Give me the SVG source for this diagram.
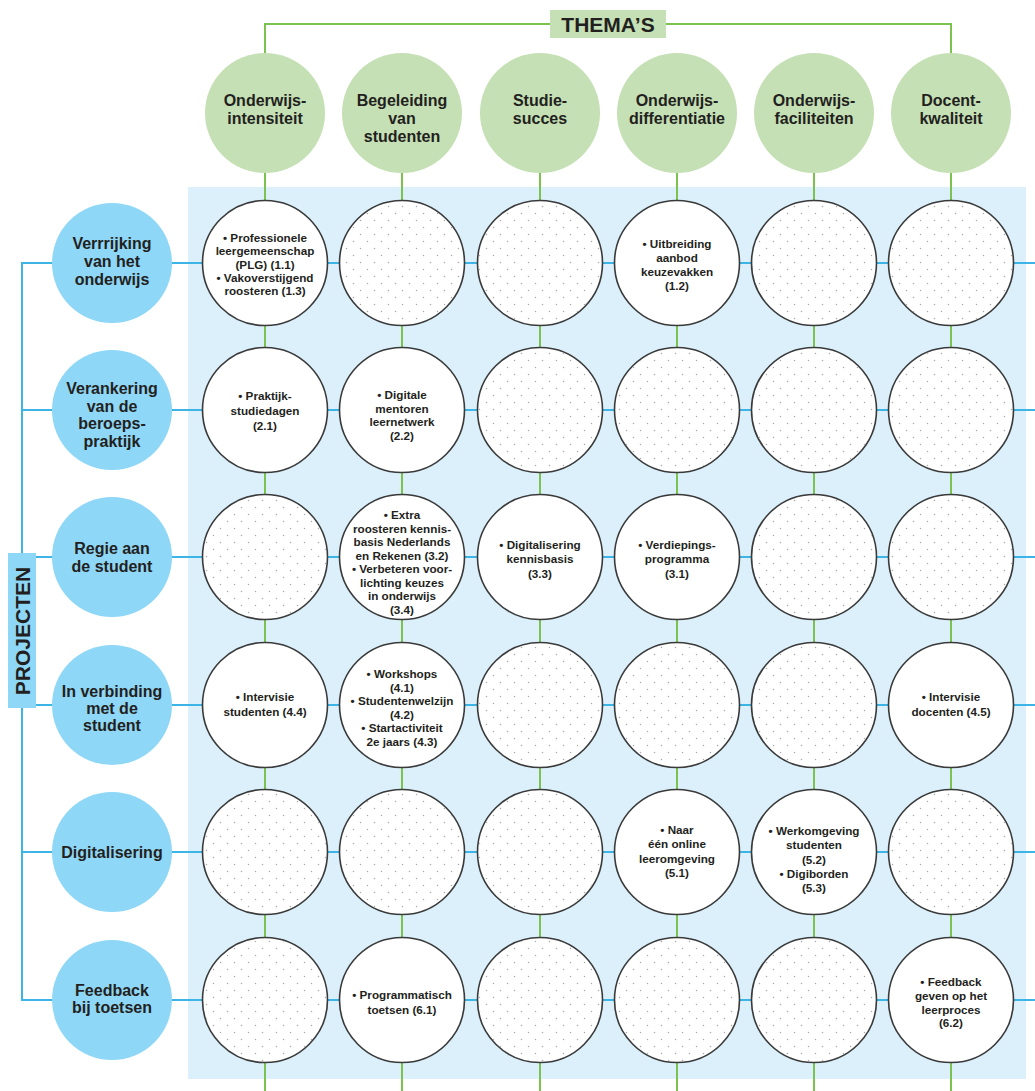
<svg xmlns="http://www.w3.org/2000/svg" width="1035" height="1091" viewBox="0 0 1035 1091">
<style>
.t{font-family:"Liberation Sans",Arial,sans-serif;font-weight:bold;fill:#231f20;text-anchor:middle}
.th{font-size:16px}
.pr{font-size:16px}
.c{font-size:11.7px}
.gl{stroke:#7cc24e;stroke-width:2;fill:none}
.bl{stroke:#3cb4e6;stroke-width:2;fill:none}
.theme{fill:#c5e0b4}
.proj{fill:#8ed7f7}
.cell{fill:#fff;stroke:#3a3a3a;stroke-width:1.6}
.dots{fill:url(#dots);stroke:none}
</style>
<defs>
<pattern id="dots" width="14" height="14" patternUnits="userSpaceOnUse">
<circle cx="3.5" cy="3.5" r="0.75" fill="#a8a8a8"/>
<circle cx="10.5" cy="10.5" r="0.75" fill="#a8a8a8"/>
</pattern>
</defs>
<rect width="1035" height="1091" fill="#fff"/>
<rect id="grid-bg" x="188" y="187" width="838" height="892" fill="#dbf0fb"/>
<g id="connectors">
<polyline class="gl" points="265,53 265,24 951,24 951,53"/>
<line class="gl" x1="265" y1="173" x2="265" y2="1091"/>
<line class="gl" x1="402" y1="173" x2="402" y2="1091"/>
<line class="gl" x1="540" y1="173" x2="540" y2="1091"/>
<line class="gl" x1="677" y1="173" x2="677" y2="1091"/>
<line class="gl" x1="814" y1="173" x2="814" y2="1091"/>
<line class="gl" x1="951" y1="173" x2="951" y2="1091"/>
<line class="bl" x1="22" y1="263" x2="22" y2="1000"/>
<line class="bl" x1="21" y1="263" x2="1035" y2="263"/>
<line class="bl" x1="22" y1="410" x2="1035" y2="410"/>
<line class="bl" x1="22" y1="557" x2="1035" y2="557"/>
<line class="bl" x1="22" y1="705" x2="1035" y2="705"/>
<line class="bl" x1="22" y1="852" x2="1035" y2="852"/>
<line class="bl" x1="21" y1="1000" x2="1035" y2="1000"/>
</g>
<g id="themas-label">
<rect x="550" y="10" width="116" height="28" class="theme"/>
<text class="t" x="608" y="31.5" font-size="21">THEMA’S</text>
</g>
<g id="projecten-label">
<rect x="8" y="553" width="28" height="155" class="proj"/>
<text class="t" transform="translate(29.5,631) rotate(-90)" font-size="21">PROJECTEN</text>
</g>
<g id="theme-1"><circle cx="265" cy="113" r="60" class="theme"/><text class="t th" x="265" y="106">Onderwijs-<tspan x="265" dy="18">intensiteit</tspan></text></g>
<g id="theme-2"><circle cx="402" cy="113" r="60" class="theme"/><text class="t th" x="402" y="106">Begeleiding<tspan x="402" dy="18">van</tspan><tspan x="402" dy="18">studenten</tspan></text></g>
<g id="theme-3"><circle cx="540" cy="113" r="60" class="theme"/><text class="t th" x="540" y="106">Studie-<tspan x="540" dy="18">succes</tspan></text></g>
<g id="theme-4"><circle cx="677" cy="113" r="60" class="theme"/><text class="t th" x="677" y="106">Onderwijs-<tspan x="677" dy="18">differentiatie</tspan></text></g>
<g id="theme-5"><circle cx="814" cy="113" r="60" class="theme"/><text class="t th" x="814" y="106">Onderwijs-<tspan x="814" dy="18">faciliteiten</tspan></text></g>
<g id="theme-6"><circle cx="951" cy="113" r="60" class="theme"/><text class="t th" x="951" y="106">Docent-<tspan x="951" dy="18">kwaliteit</tspan></text></g>
<g id="project-1"><circle cx="112" cy="263" r="60" class="proj"/><text class="t pr" x="112" y="249">Verrrijking<tspan x="112" dy="18">van het</tspan><tspan x="112" dy="18">onderwijs</tspan></text></g>
<g id="project-2"><circle cx="112" cy="410" r="60" class="proj"/><text class="t pr" x="112" y="394">Verankering<tspan x="112" dy="17.5">van de</tspan><tspan x="112" dy="17.5">beroeps-</tspan><tspan x="112" dy="17.5">praktijk</tspan></text></g>
<g id="project-3"><circle cx="112" cy="557" r="60" class="proj"/><text class="t pr" x="112" y="554">Regie aan<tspan x="112" dy="18">de student</tspan></text></g>
<g id="project-4"><circle cx="112" cy="705" r="60" class="proj"/><text class="t pr" x="112" y="697">In verbinding<tspan x="112" dy="17">met de</tspan><tspan x="112" dy="17">student</tspan></text></g>
<g id="project-5"><circle cx="112" cy="852" r="60" class="proj"/><text class="t pr" x="112" y="858">Digitalisering</text></g>
<g id="project-6"><circle cx="112" cy="1000" r="60" class="proj"/><text class="t pr" x="112" y="996">Feedback<tspan x="112" dy="17">bij toetsen</tspan></text></g>
<g id="cell-1-1"><circle cx="265" cy="263" r="62.5" class="cell"/><text class="t c" x="265" y="242">• Professionele<tspan x="265" dy="13.3">leergemeenschap</tspan><tspan x="265" dy="13.3">(PLG) (1.1)</tspan><tspan x="265" dy="13.3">• Vakoverstijgend</tspan><tspan x="265" dy="13.3">roosteren (1.3)</tspan></text></g>
<g id="cell-1-2"><circle cx="402" cy="263" r="62.5" class="cell"/><circle cx="402" cy="263" r="61.5" class="dots"/></g>
<g id="cell-1-3"><circle cx="540" cy="263" r="62.5" class="cell"/><circle cx="540" cy="263" r="61.5" class="dots"/></g>
<g id="cell-1-4"><circle cx="677" cy="263" r="62.5" class="cell"/><text class="t c" x="677" y="248">• Uitbreiding<tspan x="677" dy="14">aanbod</tspan><tspan x="677" dy="14">keuzevakken</tspan><tspan x="677" dy="14">(1.2)</tspan></text></g>
<g id="cell-1-5"><circle cx="814" cy="263" r="62.5" class="cell"/><circle cx="814" cy="263" r="61.5" class="dots"/></g>
<g id="cell-1-6"><circle cx="951" cy="263" r="62.5" class="cell"/><circle cx="951" cy="263" r="61.5" class="dots"/></g>
<g id="cell-2-1"><circle cx="265" cy="410" r="62.5" class="cell"/><text class="t c" x="265" y="400">• Praktijk-<tspan x="265" dy="14.5">studiedagen</tspan><tspan x="265" dy="15">(2.1)</tspan></text></g>
<g id="cell-2-2"><circle cx="402" cy="410" r="62.5" class="cell"/><text class="t c" x="402" y="399">• Digitale<tspan x="402" dy="13.7">mentoren</tspan><tspan x="402" dy="13.7">leernetwerk</tspan><tspan x="402" dy="14">(2.2)</tspan></text></g>
<g id="cell-2-3"><circle cx="540" cy="410" r="62.5" class="cell"/><circle cx="540" cy="410" r="61.5" class="dots"/></g>
<g id="cell-2-4"><circle cx="677" cy="410" r="62.5" class="cell"/><circle cx="677" cy="410" r="61.5" class="dots"/></g>
<g id="cell-2-5"><circle cx="814" cy="410" r="62.5" class="cell"/><circle cx="814" cy="410" r="61.5" class="dots"/></g>
<g id="cell-2-6"><circle cx="951" cy="410" r="62.5" class="cell"/><circle cx="951" cy="410" r="61.5" class="dots"/></g>
<g id="cell-3-1"><circle cx="265" cy="557" r="62.5" class="cell"/><circle cx="265" cy="557" r="61.5" class="dots"/></g>
<g id="cell-3-2"><circle cx="402" cy="557" r="62.5" class="cell"/><text class="t c" x="402" y="519">• Extra<tspan x="402" dy="13.5">roosteren kennis-</tspan><tspan x="402" dy="13.5">basis Nederlands</tspan><tspan x="402" dy="13.5">en Rekenen (3.2)</tspan><tspan x="402" dy="13.5">• Verbeteren voor-</tspan><tspan x="402" dy="13.5">lichting keuzes</tspan><tspan x="402" dy="13.5">in onderwijs</tspan><tspan x="402" dy="13.5">(3.4)</tspan></text></g>
<g id="cell-3-3"><circle cx="540" cy="557" r="62.5" class="cell"/><text class="t c" x="540" y="549">• Digitalisering<tspan x="540" dy="14">kennisbasis</tspan><tspan x="540" dy="15">(3.3)</tspan></text></g>
<g id="cell-3-4"><circle cx="677" cy="557" r="62.5" class="cell"/><text class="t c" x="677" y="549">• Verdiepings-<tspan x="677" dy="14">programma</tspan><tspan x="677" dy="15">(3.1)</tspan></text></g>
<g id="cell-3-5"><circle cx="814" cy="557" r="62.5" class="cell"/><circle cx="814" cy="557" r="61.5" class="dots"/></g>
<g id="cell-3-6"><circle cx="951" cy="557" r="62.5" class="cell"/><circle cx="951" cy="557" r="61.5" class="dots"/></g>
<g id="cell-4-1"><circle cx="265" cy="705" r="62.5" class="cell"/><text class="t c" x="265" y="701">• Intervisie<tspan x="265" dy="14.5">studenten (4.4)</tspan></text></g>
<g id="cell-4-2"><circle cx="402" cy="705" r="62.5" class="cell"/><text class="t c" x="402" y="678">• Workshops<tspan x="402" dy="13.6">(4.1)</tspan><tspan x="402" dy="13.6">• Studentenwelzijn</tspan><tspan x="402" dy="13.6">(4.2)</tspan><tspan x="402" dy="13.6">• Startactiviteit</tspan><tspan x="402" dy="13.6">2e jaars (4.3)</tspan></text></g>
<g id="cell-4-3"><circle cx="540" cy="705" r="62.5" class="cell"/><circle cx="540" cy="705" r="61.5" class="dots"/></g>
<g id="cell-4-4"><circle cx="677" cy="705" r="62.5" class="cell"/><circle cx="677" cy="705" r="61.5" class="dots"/></g>
<g id="cell-4-5"><circle cx="814" cy="705" r="62.5" class="cell"/><circle cx="814" cy="705" r="61.5" class="dots"/></g>
<g id="cell-4-6"><circle cx="951" cy="705" r="62.5" class="cell"/><text class="t c" x="951" y="701">• Intervisie<tspan x="951" dy="14.5">docenten (4.5)</tspan></text></g>
<g id="cell-5-1"><circle cx="265" cy="852" r="62.5" class="cell"/><circle cx="265" cy="852" r="61.5" class="dots"/></g>
<g id="cell-5-2"><circle cx="402" cy="852" r="62.5" class="cell"/><circle cx="402" cy="852" r="61.5" class="dots"/></g>
<g id="cell-5-3"><circle cx="540" cy="852" r="62.5" class="cell"/><circle cx="540" cy="852" r="61.5" class="dots"/></g>
<g id="cell-5-4"><circle cx="677" cy="852" r="62.5" class="cell"/><text class="t c" x="677" y="834" font-size="12.3">• Naar<tspan x="677" dy="14.3">één online</tspan><tspan x="677" dy="14.3">leeromgeving</tspan><tspan x="677" dy="14.3">(5.1)</tspan></text></g>
<g id="cell-5-5"><circle cx="814" cy="852" r="62.5" class="cell"/><text class="t c" x="814" y="835" font-size="12.3">• Werkomgeving<tspan x="814" dy="14">studenten</tspan><tspan x="814" dy="14.5">(5.2)</tspan><tspan x="814" dy="14">• Digiborden</tspan><tspan x="814" dy="14">(5.3)</tspan></text></g>
<g id="cell-5-6"><circle cx="951" cy="852" r="62.5" class="cell"/><circle cx="951" cy="852" r="61.5" class="dots"/></g>
<g id="cell-6-1"><circle cx="265" cy="1000" r="62.5" class="cell"/><circle cx="265" cy="1000" r="61.5" class="dots"/></g>
<g id="cell-6-2"><circle cx="402" cy="1000" r="62.5" class="cell"/><text class="t c" x="402" y="999">• Programmatisch<tspan x="402" dy="14.5">toetsen (6.1)</tspan></text></g>
<g id="cell-6-3"><circle cx="540" cy="1000" r="62.5" class="cell"/><circle cx="540" cy="1000" r="61.5" class="dots"/></g>
<g id="cell-6-4"><circle cx="677" cy="1000" r="62.5" class="cell"/><circle cx="677" cy="1000" r="61.5" class="dots"/></g>
<g id="cell-6-5"><circle cx="814" cy="1000" r="62.5" class="cell"/><circle cx="814" cy="1000" r="61.5" class="dots"/></g>
<g id="cell-6-6"><circle cx="951" cy="1000" r="62.5" class="cell"/><text class="t c" x="951" y="986" font-size="12.3">• Feedback<tspan x="951" dy="13.8">geven op het</tspan><tspan x="951" dy="13.8">leerproces</tspan><tspan x="951" dy="13.8">(6.2)</tspan></text></g>
</svg>
